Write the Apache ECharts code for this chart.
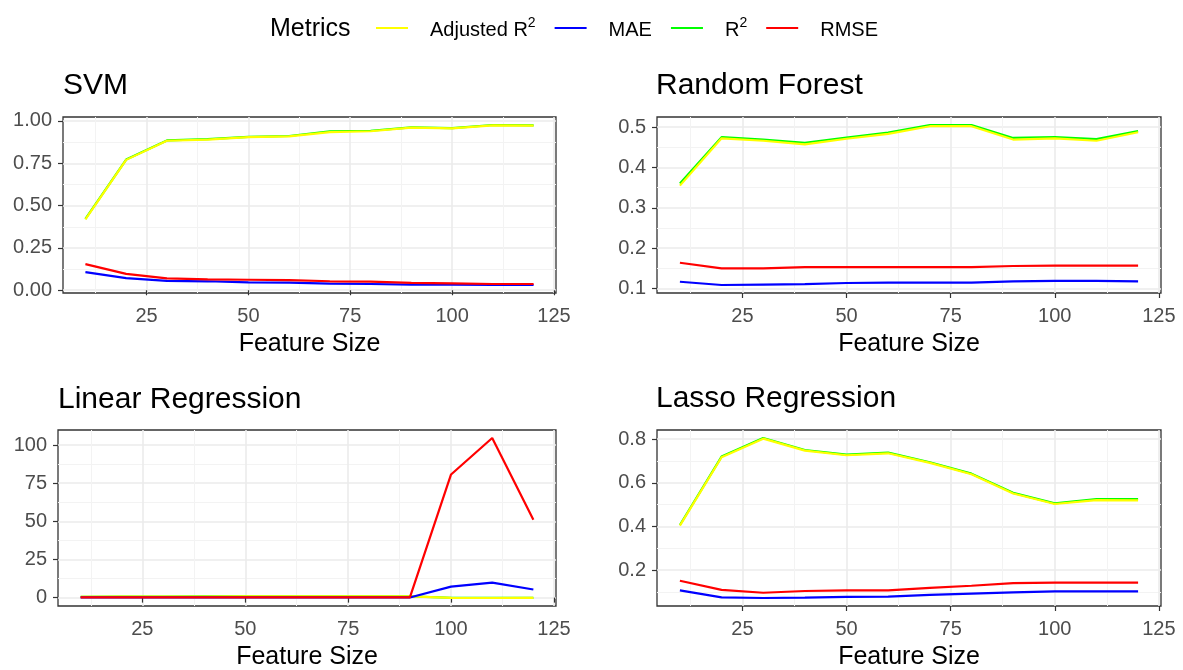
<!DOCTYPE html>
<html>
<head>
<meta charset="utf-8">
<title>Metrics vs Feature Size</title>
<script src="https://cdn.jsdelivr.net/npm/echarts@6/dist/echarts.min.js"></script>
<style>
	html, body { margin: 0; padding: 0; background: #fff; }
	#chart_box { width: 1183px; height: 670px; }
</style>
</head>
<body>
<div id="chart_box"></div>
<script>
/*横轴：特征数量*/
var featureSize = [10, 20, 30, 40, 50, 60, 70, 80, 90, 100, 110, 120];
var xTicks = [25, 50, 75, 100, 125];
var xMinorTicks = [12.5, 37.5, 62.5, 87.5, 112.5];

/*SVM*/
var svmAdjR2 = [0.419, 0.770, 0.883, 0.890, 0.904, 0.909, 0.934, 0.939, 0.960, 0.956, 0.974, 0.972];
var svmR2 = [0.421, 0.772, 0.885, 0.892, 0.906, 0.911, 0.939, 0.942, 0.962, 0.958, 0.976, 0.974];
var svmMAE = [0.107, 0.072, 0.055, 0.053, 0.047, 0.045, 0.039, 0.037, 0.033, 0.033, 0.031, 0.031];
var svmRMSE = [0.154, 0.097, 0.070, 0.064, 0.062, 0.060, 0.053, 0.051, 0.043, 0.041, 0.037, 0.037];
var svmYTicks = [0, 0.25, 0.5, 0.75, 1];
var svmYMinor = [0.125, 0.375, 0.625, 0.875];

/*Random Forest*/
var rfAdjR2 = [0.355, 0.472, 0.466, 0.457, 0.471, 0.483, 0.502, 0.502, 0.469, 0.472, 0.466, 0.487];
var rfR2 = [0.360, 0.475, 0.469, 0.461, 0.474, 0.486, 0.505, 0.505, 0.473, 0.475, 0.470, 0.490];
var rfMAE = [0.117, 0.109, 0.110, 0.111, 0.114, 0.115, 0.115, 0.115, 0.118, 0.119, 0.119, 0.118];
var rfRMSE = [0.164, 0.150, 0.150, 0.153, 0.153, 0.153, 0.153, 0.153, 0.156, 0.157, 0.157, 0.157];
var rfYTicks = [0.1, 0.2, 0.3, 0.4, 0.5];
var rfYMinor = [0.15, 0.25, 0.35, 0.45];

/*Linear Regression*/
var lrAdjR2 = [0.45, 0.62, 0.70, 0.74, 0.77, 0.79, 0.80, 0.82, 0.84, -0.15, -0.25, -0.20];
var lrR2 = [0.47, 0.64, 0.72, 0.76, 0.79, 0.81, 0.82, 0.84, 0.86, -0.10, -0.20, -0.15];
var lrMAE = [0.11, 0.10, 0.10, 0.10, 0.10, 0.10, 0.10, 0.10, 0.10, 7.2, 9.8, 5.3];
var lrRMSE = [0.15, 0.14, 0.14, 0.14, 0.14, 0.14, 0.14, 0.14, 0.14, 80.7, 104.6, 51.1];
var lrYTicks = [0, 25, 50, 75, 100];
var lrYMinor = [12.5, 37.5, 62.5, 87.5];

/*Lasso Regression*/
var lassoAdjR2 = [0.404, 0.717, 0.802, 0.747, 0.726, 0.735, 0.691, 0.639, 0.551, 0.503, 0.521, 0.520];
var lassoR2 = [0.407, 0.720, 0.805, 0.750, 0.729, 0.738, 0.694, 0.642, 0.554, 0.506, 0.525, 0.526];
var lassoMAE = [0.108, 0.076, 0.073, 0.075, 0.078, 0.079, 0.087, 0.093, 0.099, 0.103, 0.103, 0.103];
var lassoRMSE = [0.152, 0.110, 0.097, 0.105, 0.108, 0.108, 0.119, 0.129, 0.141, 0.143, 0.143, 0.143];
var lassoYTicks = [0.2, 0.4, 0.6, 0.8];
var lassoYMinor = [0.1, 0.3, 0.5, 0.7];

var metricNames = ['Adjusted R2', 'MAE', 'R2', 'RMSE'];
var metricColors = { 'Adjusted R2': '#FFFF00', 'MAE': '#0000FF', 'R2': '#00FF00', 'RMSE': '#FF0000' };

var FONT = 'Liberation Sans, Arial, sans-serif';

/*四个面板*/
var panels = [
	{ title: 'SVM', titleLeft: 63, titleTop: 71, grid: { left: 63, top: 117, width: 493, height: 176 },
		data: { 'Adjusted R2': svmAdjR2, 'MAE': svmMAE, 'R2': svmR2, 'RMSE': svmRMSE },
		yTicks: svmYTicks, yMinor: svmYMinor, digits: 2 },
	{ title: 'Random Forest', titleLeft: 656, titleTop: 71, grid: { left: 657, top: 117, width: 504, height: 176 },
		data: { 'Adjusted R2': rfAdjR2, 'MAE': rfMAE, 'R2': rfR2, 'RMSE': rfRMSE },
		yTicks: rfYTicks, yMinor: rfYMinor, digits: 1 },
	{ title: 'Linear Regression', titleLeft: 58, titleTop: 385, grid: { left: 58, top: 430, width: 498, height: 176 },
		data: { 'Adjusted R2': lrAdjR2, 'MAE': lrMAE, 'R2': lrR2, 'RMSE': lrRMSE },
		yTicks: lrYTicks, yMinor: lrYMinor, digits: 0 },
	{ title: 'Lasso Regression', titleLeft: 656, titleTop: 384, grid: { left: 657, top: 430, width: 504, height: 176 },
		data: { 'Adjusted R2': lassoAdjR2, 'MAE': lassoMAE, 'R2': lassoR2, 'RMSE': lassoRMSE },
		yTicks: lassoYTicks, yMinor: lassoYMinor, digits: 1 }
];

/*ggplot 默认的 5% 扩展*/
function expandRange(values) {
	var lo = Math.min.apply(null, values);
	var hi = Math.max.apply(null, values);
	var pad = (hi - lo) * 0.05;
	return [lo - pad, hi + pad];
}

var option = {
	animation: false,
	backgroundColor: '#fff',
	title: [{
		text: 'Metrics', left: 270, top: 17, padding: 0,
		textStyle: { fontFamily: FONT, fontSize: 25, fontWeight: 'normal', color: '#000' }
	}],
	legend: {
		data: metricNames,
		left: 376, top: 16, padding: 0,
		icon: 'rect', itemWidth: 32, itemHeight: 2, itemGap: 19,
		selectedMode: false,
		formatter: function(name) {
			if(name === 'Adjusted R2') return '{g|}{t|Adjusted R}{sup|2}';
			if(name === 'R2') return '{g|}{t|R}{sup|2}';
			return '{g|}{t|' + name + '}';
		},
		textStyle: {
			fontFamily: FONT, color: '#000',
			rich: {
				g: { width: 17 },
				t: { fontFamily: FONT, fontSize: 20, color: '#000', lineHeight: 24, verticalAlign: 'bottom' },
				sup: { fontFamily: FONT, fontSize: 14, color: '#000', lineHeight: 14, verticalAlign: 'top' }
			}
		}
	},
	grid: [], xAxis: [], yAxis: [], series: []
};

var xRange = expandRange(featureSize);
var drawOrder = ['R2', 'Adjusted R2', 'MAE', 'RMSE'];

for(var i = 0; i < panels.length; i++) {
	var p = panels[i];
	var allValues = [];
	for(var k in p.data) allValues = allValues.concat(p.data[k]);
	var yRange = expandRange(allValues);
	var digits = p.digits;

	option.title.push({
		text: p.title, left: p.titleLeft, top: p.titleTop, padding: 0,
		textStyle: { fontFamily: FONT, fontSize: 30, fontWeight: 'normal', color: '#000' }
	});

	option.grid.push({
		left: p.grid.left, top: p.grid.top, width: p.grid.width, height: p.grid.height,
		show: true, backgroundColor: '#fff', borderColor: '#333333', borderWidth: 1.3,
		outerBoundsMode: 'none'
	});

	/*主刻度轴*/
	option.xAxis.push({
		type: 'value', gridIndex: i, min: xRange[0], max: xRange[1],
		name: 'Feature Size', nameLocation: 'middle', nameGap: 39,
		nameTextStyle: { fontFamily: FONT, fontSize: 25, color: '#000' },
		axisLine: { show: false },
		axisTick: { show: true, customValues: xTicks, length: 5, lineStyle: { color: '#333333', width: 1.2 } },
		axisLabel: { customValues: xTicks, margin: 13, fontFamily: FONT, fontSize: 20, color: '#4D4D4D' },
		splitLine: { show: true, lineStyle: { color: '#EBEBEB', width: 1.6 } }
	});
	/*次网格线*/
	option.xAxis.push({
		type: 'value', gridIndex: i, min: xRange[0], max: xRange[1],
		axisLine: { show: false },
		axisTick: { show: false, customValues: xMinorTicks },
		axisLabel: { show: false },
		splitLine: { show: true, lineStyle: { color: '#F3F3F3', width: 1 } }
	});

	option.yAxis.push({
		type: 'value', gridIndex: i, min: yRange[0], max: yRange[1],
		axisLine: { show: false },
		axisTick: { show: true, customValues: p.yTicks, length: 5, lineStyle: { color: '#333333', width: 1.2 } },
		axisLabel: {
			customValues: p.yTicks, margin: 11, fontFamily: FONT, fontSize: 20, color: '#4D4D4D',
			formatter: (function(d) { return function(v) { return v.toFixed(d); }; })(digits)
		},
		splitLine: { show: true, lineStyle: { color: '#EBEBEB', width: 1.6 } }
	});
	option.yAxis.push({
		type: 'value', gridIndex: i, min: yRange[0], max: yRange[1],
		axisLine: { show: false },
		axisTick: { show: false, customValues: p.yMinor },
		axisLabel: { show: false },
		splitLine: { show: true, lineStyle: { color: '#F3F3F3', width: 1 } }
	});

	/*折线*/
	for(var j = 0; j < drawOrder.length; j++) {
		var name = drawOrder[j];
		var values = p.data[name];
		var points = [];
		for(var n = 0; n < featureSize.length; n++) {
			points.push([featureSize[n], values[n]]);
		}
		option.series.push({
			name: name, type: 'line',
			xAxisIndex: i * 2, yAxisIndex: i * 2,
			data: points, symbol: 'none', silent: true,
			itemStyle: { color: metricColors[name] },
			lineStyle: { color: metricColors[name], width: 2.2 }
		});
	}
}

var myChart = echarts.init(document.getElementById('chart_box'), null, { renderer: 'canvas' });
myChart.setOption(option);
</script>
</body>
</html>
